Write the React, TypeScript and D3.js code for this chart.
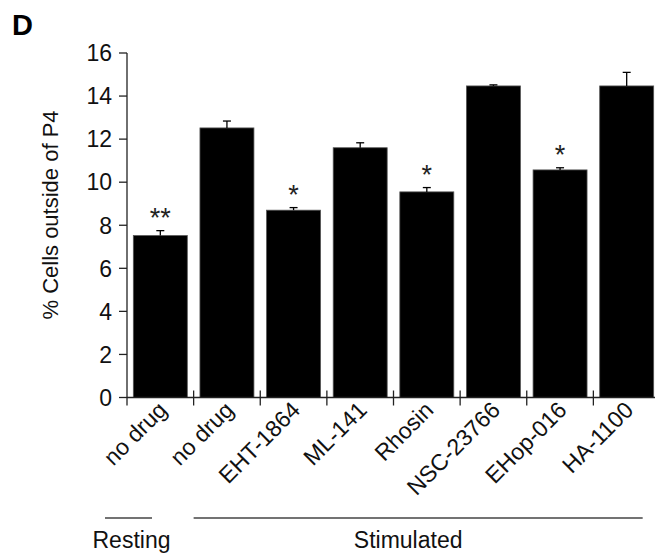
import React, { useRef, useEffect } from 'react';
import * as d3 from 'd3';

// values
const categories = ['no drug', 'no drug ', 'EHT-1864', 'ML-141', 'Rhosin', 'NSC-23766', 'EHop-016', 'HA-1100'];
const means = [7.52, 12.52, 8.7, 11.6, 9.55, 14.47, 10.57, 14.47];
const errors = [0.23, 0.32, 0.12, 0.23, 0.2, 0.05, 0.1, 0.63];
const stars = ['**', '', '*', '', '*', '', '*', ''];
const yTicks = [0, 2, 4, 6, 8, 10, 12, 14, 16];

const groupLabels = ['Resting', 'Stimulated'];
const groupFrom = [0, 1];
const groupTo = [0, 7];

const W = 655;
const H = 554;
const FONT = '"Liberation Sans", Arial, sans-serif';

const App = () => {
  const svgRef = useRef<SVGSVGElement | null>(null);

  useEffect(() => {
    if (!svgRef.current) return;
    const svg = d3.select(svgRef.current);
    svg.selectAll('*').remove();

    const x0 = 127;
    const x1 = 660;
    const yTop = 53;
    const yBottom = 397.5;

    const x = d3.scaleBand<string>()
      .domain(categories)
      .range([x0, x1])
      .paddingInner(0.19)
      .paddingOuter(0.095);
    const step = x.step();
    const edge = (i: number) => x(categories[i])! - step * 0.095;

    const y = d3.scaleLinear().domain([0, 16]).range([yBottom, yTop]);

    // panel letter
    svg.append('text')
      .attr('x', 12)
      .attr('y', 35)
      .attr('font-family', FONT)
      .attr('font-weight', 'bold')
      .attr('font-size', 29)
      .text('D');

    // bars
    svg.append('g')
      .selectAll('rect')
      .data(categories)
      .enter()
      .append('rect')
      .attr('x', d => x(d)!)
      .attr('y', (d, i) => y(means[i]))
      .attr('width', x.bandwidth())
      .attr('height', (d, i) => yBottom - y(means[i]))
      .attr('fill', '#000')
      .attr('stroke', '#555')
      .attr('stroke-width', 0.8);

    // error bars (upper only)
    const eb = svg.append('g').attr('stroke', '#000').attr('stroke-width', 1.3);
    categories.forEach((c, i) => {
      const cx = x(c)! + x.bandwidth() / 2;
      const top = y(means[i] + errors[i]);
      eb.append('line')
        .attr('x1', cx).attr('x2', cx)
        .attr('y1', y(means[i])).attr('y2', top);
      eb.append('line')
        .attr('x1', cx - 4).attr('x2', cx + 4)
        .attr('y1', top).attr('y2', top);
    });

    // significance stars
    svg.append('g')
      .selectAll('text')
      .data(categories)
      .enter()
      .append('text')
      .attr('x', d => x(d)! + x.bandwidth() / 2)
      .attr('y', (d, i) => y(means[i] + errors[i]) - 4)
      .attr('text-anchor', 'middle')
      .attr('font-family', FONT)
      .attr('font-size', 27)
      .attr('fill', '#222')
      .text((d, i) => stars[i]);

    // y axis
    const ax = svg.append('g').attr('stroke', '#222').attr('stroke-width', 1.3);
    ax.append('line')
      .attr('x1', x0).attr('x2', x0)
      .attr('y1', yTop).attr('y2', yBottom + 8);
    yTicks.forEach(t => {
      ax.append('line')
        .attr('x1', x0 - 8).attr('x2', x0)
        .attr('y1', y(t)).attr('y2', y(t));
    });
    svg.append('g')
      .selectAll('text')
      .data(yTicks)
      .enter()
      .append('text')
      .attr('x', x0 - 15)
      .attr('y', d => y(d))
      .attr('dy', '0.36em')
      .attr('text-anchor', 'end')
      .attr('font-family', FONT)
      .attr('font-size', 23)
      .attr('fill', '#111')
      .text(d => d);

    // x axis
    ax.append('line')
      .attr('x1', x0).attr('x2', x1)
      .attr('y1', yBottom).attr('y2', yBottom);
    categories.forEach((c, i) => {
      if (i === 0) return;
      const tx = edge(i);
      ax.append('line')
        .attr('x1', tx).attr('x2', tx)
        .attr('y1', yBottom - 7).attr('y2', yBottom + 8);
    });

    // x labels
    svg.append('g')
      .selectAll('text')
      .data(categories)
      .enter()
      .append('text')
      .attr('transform', d => {
        const cx = x(d)! + x.bandwidth() / 2 + 8;
        return `translate(${cx},${yBottom + 14}) rotate(-45)`;
      })
      .attr('text-anchor', 'end')
      .attr('font-family', FONT)
      .attr('font-size', 23)
      .attr('fill', '#111')
      .text(d => d.trim());

    // y label
    svg.append('text')
      .attr('transform', `translate(58,215) rotate(-90)`)
      .attr('text-anchor', 'middle')
      .attr('font-family', FONT)
      .attr('font-size', 22)
      .attr('fill', '#111')
      .text('% Cells outside of P4');

    // group brackets
    groupLabels.forEach((label, gi) => {
      let a: number, b: number, tx: number;
      if (groupFrom[gi] === groupTo[gi]) {
        a = edge(groupFrom[gi]) - 22;
        b = a + 47;
        tx = (a + b) / 2 + 3;
      } else {
        a = edge(groupFrom[gi]);
        b = edge(groupTo[gi]) + step * 0.74;
        tx = (a + b) / 2 - 10;
      }
      svg.append('line')
        .attr('x1', a).attr('x2', b)
        .attr('y1', 518).attr('y2', 518)
        .attr('stroke', '#444')
        .attr('stroke-width', 1.3);
      svg.append('text')
        .attr('x', tx)
        .attr('y', 548)
        .attr('text-anchor', 'middle')
        .attr('font-family', FONT)
        .attr('font-size', 23)
        .attr('fill', '#111')
        .text(label);
    });
  }, []);

  return (
    <svg
      ref={svgRef}
      width={W}
      height={H}
      style={{ position: 'absolute', left: 0, top: 0, background: '#fff' }}
    />
  );
};

export default App;
